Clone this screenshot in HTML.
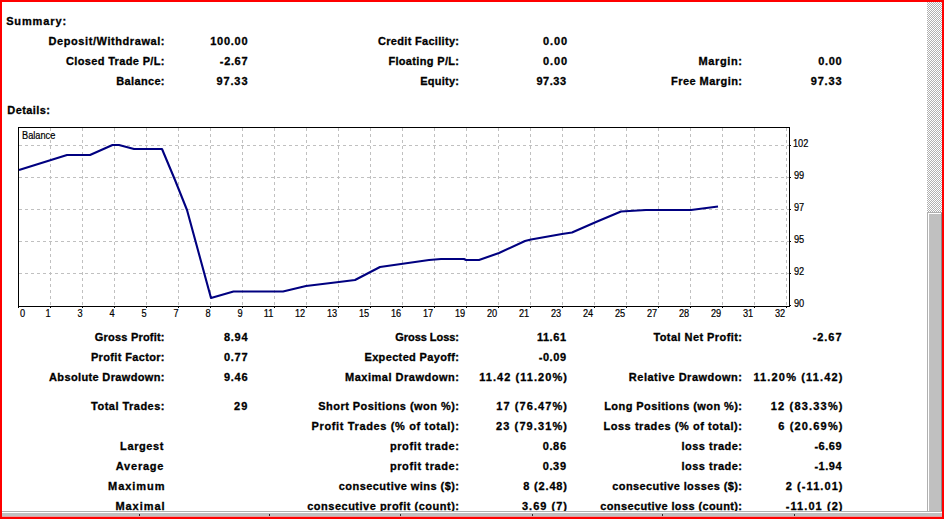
<!DOCTYPE html>
<html><head><meta charset="utf-8"><style>
html,body{margin:0;padding:0;}
body{width:944px;height:519px;position:relative;overflow:hidden;background:#fff;}
.b{position:absolute;font:bold 11px/12px "Liberation Sans",sans-serif;color:#000;white-space:nowrap;-webkit-text-stroke:0.3px #000;}
.a{position:absolute;font:10px/10px "Liberation Sans",sans-serif;color:#000;-webkit-text-stroke:0.2px #000;white-space:nowrap;}
svg{position:absolute;left:0;top:0;}
.g{stroke:#c0c0c0;stroke-width:1;stroke-dasharray:3 3;}
#brd{position:absolute;left:0;top:0;width:940px;height:515px;border:2px solid #f00;}
#vs{position:absolute;left:927px;top:2px;width:15px;height:510px;background-color:#fff;
background-image:repeating-conic-gradient(#b0b0b0 0% 25%, #ffffff 0% 50%);background-size:2px 2px;background-position:1px 0;}
#thumb{position:absolute;left:927px;top:212px;width:15px;height:299px;background:#c0c0c0;box-sizing:border-box;border-left:1px solid #b0b0b0;border-top:1px solid #b0b0b0;border-right:1px solid #8a8a8a;}
#thumb::before{content:"";position:absolute;left:0;top:0;right:0;bottom:0;border-left:1px solid #fff;border-top:1px solid #fff;}
#hs{position:absolute;left:2px;top:511px;width:940px;height:5px;background:#c0c0c0;border-top:1px solid #b0b0b0;box-sizing:border-box;}
#hs::after{content:"";position:absolute;left:0;top:4px;width:100%;height:1px;background:#e6a0a0;}
.tk{position:absolute;top:514px;width:1px;height:2px;background:#303030;}
#hs::before{content:"";position:absolute;left:0;top:0px;width:100%;height:1px;background:#fff;}
</style></head><body>
<svg width="944" height="519" shape-rendering="crispEdges">
<line x1="50.5" y1="128" x2="50.5" y2="306" class="g"/>
<line x1="82.5" y1="128" x2="82.5" y2="306" class="g"/>
<line x1="114.5" y1="128" x2="114.5" y2="306" class="g"/>
<line x1="146.5" y1="128" x2="146.5" y2="306" class="g"/>
<line x1="178.5" y1="128" x2="178.5" y2="306" class="g"/>
<line x1="210.5" y1="128" x2="210.5" y2="306" class="g"/>
<line x1="242.5" y1="128" x2="242.5" y2="306" class="g"/>
<line x1="274.5" y1="128" x2="274.5" y2="306" class="g"/>
<line x1="306.5" y1="128" x2="306.5" y2="306" class="g"/>
<line x1="338.5" y1="128" x2="338.5" y2="306" class="g"/>
<line x1="370.5" y1="128" x2="370.5" y2="306" class="g"/>
<line x1="402.5" y1="128" x2="402.5" y2="306" class="g"/>
<line x1="434.5" y1="128" x2="434.5" y2="306" class="g"/>
<line x1="466.5" y1="128" x2="466.5" y2="306" class="g"/>
<line x1="498.5" y1="128" x2="498.5" y2="306" class="g"/>
<line x1="530.5" y1="128" x2="530.5" y2="306" class="g"/>
<line x1="562.5" y1="128" x2="562.5" y2="306" class="g"/>
<line x1="594.5" y1="128" x2="594.5" y2="306" class="g"/>
<line x1="626.5" y1="128" x2="626.5" y2="306" class="g"/>
<line x1="658.5" y1="128" x2="658.5" y2="306" class="g"/>
<line x1="690.5" y1="128" x2="690.5" y2="306" class="g"/>
<line x1="722.5" y1="128" x2="722.5" y2="306" class="g"/>
<line x1="754.5" y1="128" x2="754.5" y2="306" class="g"/>
<line x1="786.5" y1="128" x2="786.5" y2="306" class="g"/>
<line x1="19" y1="145.5" x2="789" y2="145.5" class="g"/>
<line x1="19" y1="177.5" x2="789" y2="177.5" class="g"/>
<line x1="19" y1="209.5" x2="789" y2="209.5" class="g"/>
<line x1="19" y1="241.5" x2="789" y2="241.5" class="g"/>
<line x1="19" y1="273.5" x2="789" y2="273.5" class="g"/>
<rect x="18.5" y="127.5" width="771" height="179" fill="none" stroke="#000" stroke-width="1"/>
<line x1="18.5" y1="306" x2="18.5" y2="308" stroke="#000"/>
<line x1="50.5" y1="306" x2="50.5" y2="308" stroke="#000"/>
<line x1="82.5" y1="306" x2="82.5" y2="308" stroke="#000"/>
<line x1="114.5" y1="306" x2="114.5" y2="308" stroke="#000"/>
<line x1="146.5" y1="306" x2="146.5" y2="308" stroke="#000"/>
<line x1="178.5" y1="306" x2="178.5" y2="308" stroke="#000"/>
<line x1="210.5" y1="306" x2="210.5" y2="308" stroke="#000"/>
<line x1="242.5" y1="306" x2="242.5" y2="308" stroke="#000"/>
<line x1="274.5" y1="306" x2="274.5" y2="308" stroke="#000"/>
<line x1="306.5" y1="306" x2="306.5" y2="308" stroke="#000"/>
<line x1="338.5" y1="306" x2="338.5" y2="308" stroke="#000"/>
<line x1="370.5" y1="306" x2="370.5" y2="308" stroke="#000"/>
<line x1="402.5" y1="306" x2="402.5" y2="308" stroke="#000"/>
<line x1="434.5" y1="306" x2="434.5" y2="308" stroke="#000"/>
<line x1="466.5" y1="306" x2="466.5" y2="308" stroke="#000"/>
<line x1="498.5" y1="306" x2="498.5" y2="308" stroke="#000"/>
<line x1="530.5" y1="306" x2="530.5" y2="308" stroke="#000"/>
<line x1="562.5" y1="306" x2="562.5" y2="308" stroke="#000"/>
<line x1="594.5" y1="306" x2="594.5" y2="308" stroke="#000"/>
<line x1="626.5" y1="306" x2="626.5" y2="308" stroke="#000"/>
<line x1="658.5" y1="306" x2="658.5" y2="308" stroke="#000"/>
<line x1="690.5" y1="306" x2="690.5" y2="308" stroke="#000"/>
<line x1="722.5" y1="306" x2="722.5" y2="308" stroke="#000"/>
<line x1="754.5" y1="306" x2="754.5" y2="308" stroke="#000"/>
<line x1="786.5" y1="306" x2="786.5" y2="308" stroke="#000"/>
<line x1="789" y1="145.5" x2="791" y2="145.5" stroke="#000"/>
<line x1="789" y1="177.5" x2="791" y2="177.5" stroke="#000"/>
<line x1="789" y1="209.5" x2="791" y2="209.5" stroke="#000"/>
<line x1="789" y1="241.5" x2="791" y2="241.5" stroke="#000"/>
<line x1="789" y1="273.5" x2="791" y2="273.5" stroke="#000"/>
<line x1="789" y1="305.5" x2="791" y2="305.5" stroke="#000"/>
<polyline fill="none" stroke="#000080" stroke-width="2.1" stroke-linejoin="round" shape-rendering="auto" points="19,170 67,155 90,155 112.5,145 119,145 134,149 162,149 175,180 187,210 211,298 233.5,291.5 283,291.5 306,286 339,282 355,280 380,267 429,260 441,259 464,259 466,260 479,260 499,253 525,241 531,239.5 562,234 572,232.5 596,222 621,211.5 646,210 691,210 718,206.5"/>
</svg>
<div id="t0" class="b" style="right:877.02px;top:15px;letter-spacing:0.879px;text-align:right">Summary:</div>
<div id="t1" class="b" style="right:893.58px;top:104px;letter-spacing:0.419px;text-align:right">Details:</div>
<div id="t2" class="b" style="right:778.93px;top:35px;letter-spacing:0.572px;text-align:right">Deposit/Withdrawal:</div>
<div id="t3" class="b" style="right:779.15px;top:55px;letter-spacing:0.353px;text-align:right">Closed Trade P/L:</div>
<div id="t4" class="b" style="right:779.17px;top:75px;letter-spacing:0.332px;text-align:right">Balance:</div>
<div id="t5" class="b" style="right:695.77px;top:35px;letter-spacing:0.730px;text-align:right">100.00</div>
<div id="t6" class="b" style="right:695.85px;top:55px;letter-spacing:0.650px;text-align:right">-2.67</div>
<div id="t7" class="b" style="right:695.60px;top:75px;letter-spacing:0.900px;text-align:right">97.33</div>
<div id="t8" class="b" style="right:484.69px;top:35px;letter-spacing:0.306px;text-align:right">Credit Facility:</div>
<div id="t9" class="b" style="right:484.67px;top:55px;letter-spacing:0.335px;text-align:right">Floating P/L:</div>
<div id="t10" class="b" style="right:484.75px;top:75px;letter-spacing:0.252px;text-align:right">Equity:</div>
<div id="t11" class="b" style="right:376.15px;top:35px;letter-spacing:0.852px;text-align:right">0.00</div>
<div id="t12" class="b" style="right:376.15px;top:55px;letter-spacing:0.852px;text-align:right">0.00</div>
<div id="t13" class="b" style="right:377.50px;top:75px;letter-spacing:0.500px;text-align:right">97.33</div>
<div id="t14" class="b" style="right:201.35px;top:55px;letter-spacing:0.648px;text-align:right">Margin:</div>
<div id="t15" class="b" style="right:201.55px;top:75px;letter-spacing:0.450px;text-align:right">Free Margin:</div>
<div id="t16" class="b" style="right:101.92px;top:55px;letter-spacing:0.582px;text-align:right">0.00</div>
<div id="t17" class="b" style="right:101.70px;top:75px;letter-spacing:0.800px;text-align:right">97.33</div>
<div id="t18" class="b" style="right:779.30px;top:331px;letter-spacing:0.200px;text-align:right">Gross Profit:</div>
<div id="t19" class="b" style="right:779.15px;top:351px;letter-spacing:0.347px;text-align:right">Profit Factor:</div>
<div id="t20" class="b" style="right:779.14px;top:371px;letter-spacing:0.358px;text-align:right">Absolute Drawdown:</div>
<div id="t21" class="b" style="right:779.02px;top:400px;letter-spacing:0.483px;text-align:right">Total Trades:</div>
<div id="t22" class="b" style="right:695.79px;top:331px;letter-spacing:0.714px;text-align:right">8.94</div>
<div id="t23" class="b" style="right:695.78px;top:351px;letter-spacing:0.716px;text-align:right">0.77</div>
<div id="t24" class="b" style="right:695.78px;top:371px;letter-spacing:0.716px;text-align:right">9.46</div>
<div id="t25" class="b" style="right:695.25px;top:400px;letter-spacing:1.250px;text-align:right">29</div>
<div id="t26" class="b" style="right:779.88px;top:440px;letter-spacing:0.617px;text-align:right">Largest</div>
<div id="t27" class="b" style="right:779.72px;top:460px;letter-spacing:0.784px;text-align:right">Average</div>
<div id="t28" class="b" style="right:778.55px;top:480px;letter-spacing:0.950px;text-align:right">Maximum</div>
<div id="t29" class="b" style="right:778.55px;top:500px;letter-spacing:0.950px;text-align:right">Maximal</div>
<div id="t30" class="b" style="right:485.05px;top:331px;letter-spacing:-0.050px;text-align:right">Gross Loss:</div>
<div id="t31" class="b" style="right:484.64px;top:351px;letter-spacing:0.355px;text-align:right">Expected Payoff:</div>
<div id="t32" class="b" style="right:484.49px;top:371px;letter-spacing:0.512px;text-align:right">Maximal Drawdown:</div>
<div id="t33" class="b" style="right:484.54px;top:400px;letter-spacing:0.461px;text-align:right">Short Positions (won %):</div>
<div id="t34" class="b" style="right:484.36px;top:420px;letter-spacing:0.642px;text-align:right">Profit Trades (% of total):</div>
<div id="t35" class="b" style="right:484.38px;top:440px;letter-spacing:0.616px;text-align:right">profit trade:</div>
<div id="t36" class="b" style="right:484.38px;top:460px;letter-spacing:0.616px;text-align:right">profit trade:</div>
<div id="t37" class="b" style="right:484.55px;top:480px;letter-spacing:0.450px;text-align:right">consecutive wins ($):</div>
<div id="t38" class="b" style="right:484.50px;top:500px;letter-spacing:0.501px;text-align:right">consecutive profit (count):</div>
<div id="t39" class="b" style="right:377.45px;top:331px;letter-spacing:0.550px;text-align:right">11.61</div>
<div id="t40" class="b" style="right:377.45px;top:351px;letter-spacing:0.550px;text-align:right">-0.09</div>
<div id="t41" class="b" style="right:375.93px;top:371px;letter-spacing:1.066px;text-align:right">11.42 (11.20%)</div>
<div id="t42" class="b" style="right:375.91px;top:400px;letter-spacing:1.090px;text-align:right">17 (76.47%)</div>
<div id="t43" class="b" style="right:375.89px;top:420px;letter-spacing:1.110px;text-align:right">23 (79.31%)</div>
<div id="t44" class="b" style="right:377.35px;top:440px;letter-spacing:0.649px;text-align:right">0.86</div>
<div id="t45" class="b" style="right:377.35px;top:460px;letter-spacing:0.649px;text-align:right">0.39</div>
<div id="t46" class="b" style="right:376.15px;top:480px;letter-spacing:0.853px;text-align:right">8 (2.48)</div>
<div id="t47" class="b" style="right:375.98px;top:500px;letter-spacing:1.022px;text-align:right">3.69 (7)</div>
<div id="t48" class="b" style="right:201.56px;top:331px;letter-spacing:0.435px;text-align:right">Total Net Profit:</div>
<div id="t49" class="b" style="right:201.49px;top:371px;letter-spacing:0.508px;text-align:right">Relative Drawdown:</div>
<div id="t50" class="b" style="right:201.57px;top:400px;letter-spacing:0.431px;text-align:right">Long Positions (won %):</div>
<div id="t51" class="b" style="right:201.44px;top:420px;letter-spacing:0.555px;text-align:right">Loss trades (% of total):</div>
<div id="t52" class="b" style="right:201.51px;top:440px;letter-spacing:0.490px;text-align:right">loss trade:</div>
<div id="t53" class="b" style="right:201.51px;top:460px;letter-spacing:0.490px;text-align:right">loss trade:</div>
<div id="t54" class="b" style="right:201.60px;top:480px;letter-spacing:0.396px;text-align:right">consecutive losses ($):</div>
<div id="t55" class="b" style="right:201.62px;top:500px;letter-spacing:0.381px;text-align:right">consecutive loss (count):</div>
<div id="t56" class="b" style="right:101.55px;top:331px;letter-spacing:0.950px;text-align:right">-2.67</div>
<div id="t57" class="b" style="right:100.34px;top:371px;letter-spacing:1.161px;text-align:right">11.20% (11.42)</div>
<div id="t58" class="b" style="right:100.31px;top:400px;letter-spacing:1.190px;text-align:right">12 (83.33%)</div>
<div id="t59" class="b" style="right:100.34px;top:420px;letter-spacing:1.164px;text-align:right">6 (20.69%)</div>
<div id="t60" class="b" style="right:102.00px;top:440px;letter-spacing:0.500px;text-align:right">-6.69</div>
<div id="t61" class="b" style="right:102.00px;top:460px;letter-spacing:0.500px;text-align:right">-1.94</div>
<div id="t62" class="b" style="right:100.43px;top:480px;letter-spacing:1.069px;text-align:right">2 (-11.01)</div>
<div id="t63" class="b" style="right:100.43px;top:500px;letter-spacing:1.069px;text-align:right">-11.01 (2)</div>
<div id="t64" class="a" style="left:19.50px;top:309px;transform:scaleX(0.920);transform-origin:0 50%">0</div>
<div id="t65" class="a" style="right:893.50px;top:309px;transform:scaleX(0.920);transform-origin:100% 50%">1</div>
<div id="t66" class="a" style="right:861.50px;top:309px;transform:scaleX(0.920);transform-origin:100% 50%">3</div>
<div id="t67" class="a" style="right:829.50px;top:309px;transform:scaleX(0.920);transform-origin:100% 50%">4</div>
<div id="t68" class="a" style="right:797.50px;top:309px;transform:scaleX(0.920);transform-origin:100% 50%">5</div>
<div id="t69" class="a" style="right:765.50px;top:309px;transform:scaleX(0.920);transform-origin:100% 50%">7</div>
<div id="t70" class="a" style="right:733.50px;top:309px;transform:scaleX(0.920);transform-origin:100% 50%">8</div>
<div id="t71" class="a" style="right:701.50px;top:309px;transform:scaleX(0.920);transform-origin:100% 50%">9</div>
<div id="t72" class="a" style="right:670.50px;top:309px;transform:scaleX(0.920);transform-origin:100% 50%">11</div>
<div id="t73" class="a" style="right:638.50px;top:309px;transform:scaleX(0.920);transform-origin:100% 50%">12</div>
<div id="t74" class="a" style="right:606.50px;top:309px;transform:scaleX(0.920);transform-origin:100% 50%">13</div>
<div id="t75" class="a" style="right:574.50px;top:309px;transform:scaleX(0.920);transform-origin:100% 50%">15</div>
<div id="t76" class="a" style="right:542.50px;top:309px;transform:scaleX(0.920);transform-origin:100% 50%">16</div>
<div id="t77" class="a" style="right:510.50px;top:309px;transform:scaleX(0.920);transform-origin:100% 50%">17</div>
<div id="t78" class="a" style="right:478.50px;top:309px;transform:scaleX(0.920);transform-origin:100% 50%">19</div>
<div id="t79" class="a" style="right:446.50px;top:309px;transform:scaleX(0.920);transform-origin:100% 50%">20</div>
<div id="t80" class="a" style="right:414.50px;top:309px;transform:scaleX(0.920);transform-origin:100% 50%">21</div>
<div id="t81" class="a" style="right:382.50px;top:309px;transform:scaleX(0.920);transform-origin:100% 50%">23</div>
<div id="t82" class="a" style="right:350.50px;top:309px;transform:scaleX(0.920);transform-origin:100% 50%">24</div>
<div id="t83" class="a" style="right:318.50px;top:309px;transform:scaleX(0.920);transform-origin:100% 50%">25</div>
<div id="t84" class="a" style="right:286.50px;top:309px;transform:scaleX(0.920);transform-origin:100% 50%">27</div>
<div id="t85" class="a" style="right:254.50px;top:309px;transform:scaleX(0.920);transform-origin:100% 50%">28</div>
<div id="t86" class="a" style="right:222.50px;top:309px;transform:scaleX(0.920);transform-origin:100% 50%">29</div>
<div id="t87" class="a" style="right:190.50px;top:309px;transform:scaleX(0.920);transform-origin:100% 50%">31</div>
<div id="t88" class="a" style="right:158.50px;top:309px;transform:scaleX(0.920);transform-origin:100% 50%">32</div>
<div id="t89" class="a" style="left:793.40px;top:139px;transform:scaleX(0.920);transform-origin:0 50%">102</div>
<div id="t90" class="a" style="left:794.40px;top:171px;transform:scaleX(0.920);transform-origin:0 50%">99</div>
<div id="t91" class="a" style="left:794.40px;top:203px;transform:scaleX(0.920);transform-origin:0 50%">97</div>
<div id="t92" class="a" style="left:794.40px;top:235px;transform:scaleX(0.920);transform-origin:0 50%">95</div>
<div id="t93" class="a" style="left:794.40px;top:267px;transform:scaleX(0.920);transform-origin:0 50%">92</div>
<div id="t94" class="a" style="left:794.40px;top:299px;transform:scaleX(0.920);transform-origin:0 50%">90</div>
<div id="t95" class="a" style="left:22.10px;top:131px;transform:scaleX(0.920);transform-origin:0 50%">Balance</div>
<div id="vs"></div><div id="thumb"></div><div id="hs"></div>
<div class="tk" style="left:139px"></div><div class="tk" style="left:269px"></div><div class="tk" style="left:400px"></div><div class="tk" style="left:532px"></div><div class="tk" style="left:662px"></div><div class="tk" style="left:794px"></div>
<div id="brd"></div>
</body></html>
